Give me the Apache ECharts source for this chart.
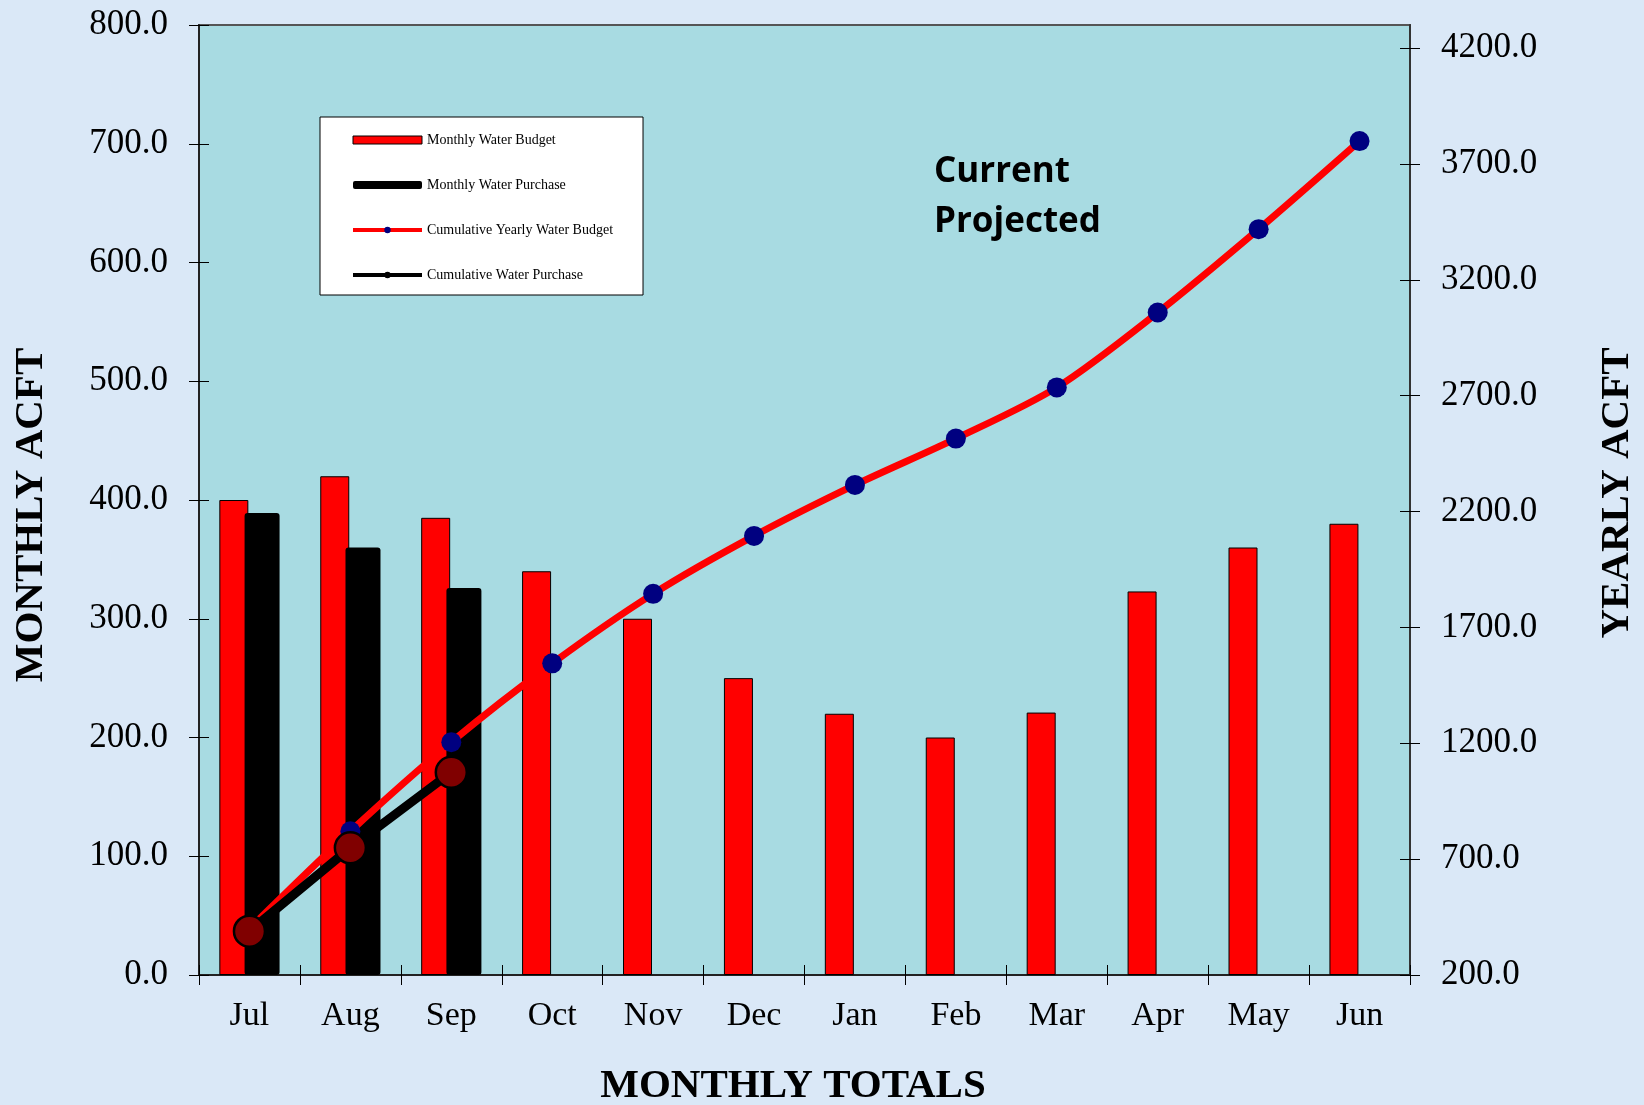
<!DOCTYPE html>
<html>
<head>
<meta charset="utf-8">
<script src="https://cdn.jsdelivr.net/npm/echarts@6/dist/echarts.min.js"></script>
<style>
  html, body { margin: 0; padding: 0; background: #dae8f7; }
  #chart { width: 1644px; height: 1105px; }
</style>
</head>
<body>
<div id="chart"></div>
<script>
// ---- data ----
const months = ['Jul', 'Aug', 'Sep', 'Oct', 'Nov', 'Dec', 'Jan', 'Feb', 'Mar', 'Apr', 'May', 'Jun'];
const monthlyBudget = [400, 420, 385, 340, 300, 250, 220, 200, 221, 323, 360, 380];
const monthlyPurchase = [389, 360, 326];
const cumulativeBudget = [400, 820, 1205, 1545, 1845, 2095, 2315, 2515, 2736, 3059, 3419, 3799];
const cumulativePurchase = [389, 749, 1075];
const leftTicks = [0, 100, 200, 300, 400, 500, 600, 700, 800];
const rightTicks = [200, 700, 1200, 1700, 2200, 2700, 3200, 3700, 4200];

const serif = '"Liberation Serif", "Times New Roman", serif';
const chart = echarts.init(document.getElementById('chart'));

const option = {
  backgroundColor: '#dae8f7',
  animation: false,
  grid: {
    left: 199, right: 234, top: 25, bottom: 130,
    show: true, backgroundColor: '#a8dbe2', borderColor: '#555', borderWidth: 2
  },
  legend: {
    orient: 'vertical',
    left: 320, top: 117,
    padding: [16, 30, 13, 31],
    backgroundColor: '#ffffff',
    borderColor: '#000', borderWidth: 1,
    itemWidth: 69, itemHeight: 8, itemGap: 31,
    textStyle: { fontFamily: serif, fontSize: 14, color: '#000' },
    data: [
      { name: 'Monthly Water Budget', icon: 'rect', itemStyle: { color: '#ff0000', borderColor: '#000', borderWidth: 1 } },
      { name: 'Monthly Water Purchase', icon: 'roundRect', itemStyle: { color: '#000' } },
      { name: 'Cumulative Yearly Water Budget', lineStyle: { width: 4, color: '#ff0000' }, itemStyle: { color: '#000080', borderWidth: 0 } },
      { name: 'Cumulative Water Purchase', lineStyle: { width: 4, color: '#000' }, itemStyle: { color: '#000', borderWidth: 0 } }
    ]
  },
  xAxis: [
    {
      type: 'category', data: months, position: 'bottom',
      axisLine: { show: true, lineStyle: { color: '#222', width: 2 } },
      axisTick: { show: true, length: 10, interval: 0, lineStyle: { color: '#000' } },
      axisLabel: { fontFamily: serif, fontSize: 34, color: '#000', margin: 24, interval: 0 },
      splitLine: { show: false }
    },
    {
      type: 'category', data: months, position: 'bottom',
      axisLine: { show: false },
      axisTick: { show: true, inside: true, length: 10, interval: 0, lineStyle: { color: '#000' } },
      axisLabel: { show: false },
      splitLine: { show: false }
    }
  ],
  yAxis: [
    {
      type: 'value', position: 'left', min: 0, max: 800, interval: 100,
      axisLine: { show: true, lineStyle: { color: '#222', width: 2 } },
      axisTick: { show: true, length: 10, lineStyle: { color: '#000' }, customValues: leftTicks },
      axisLabel: { fontFamily: serif, fontSize: 35, color: '#000', margin: 31,
        customValues: leftTicks, formatter: v => Number(v).toFixed(1) },
      splitLine: { show: false }
    },
    {
      type: 'value', position: 'right', min: 200, max: 4300, interval: 500,
      axisLine: { show: true, lineStyle: { color: '#333', width: 2 } },
      axisTick: { show: true, length: 10, lineStyle: { color: '#000' }, customValues: rightTicks },
      axisLabel: { fontFamily: serif, fontSize: 35, color: '#000', margin: 31,
        customValues: rightTicks, formatter: v => Number(v).toFixed(1) },
      splitLine: { show: false }
    },
    {
      type: 'value', position: 'left', min: 0, max: 800, interval: 100,
      axisLine: { show: false },
      axisTick: { show: true, inside: true, length: 10, lineStyle: { color: '#000' }, customValues: leftTicks },
      axisLabel: { show: false },
      splitLine: { show: false }
    },
    {
      type: 'value', position: 'right', min: 200, max: 4300, interval: 500,
      axisLine: { show: false },
      axisTick: { show: true, inside: true, length: 10, lineStyle: { color: '#000' }, customValues: rightTicks },
      axisLabel: { show: false },
      splitLine: { show: false }
    }
  ],
  graphic: [
    { type: 'text', x: 31, y: 515, rotation: Math.PI / 2,
      style: { text: 'MONTHLY ACFT', font: 'bold 41px ' + serif, fill: '#000', textAlign: 'center', textVerticalAlign: 'middle' } },
    { type: 'text', x: 1617, y: 493, rotation: Math.PI / 2,
      style: { text: 'YEARLY ACFT', font: 'bold 41px ' + serif, fill: '#000', textAlign: 'center', textVerticalAlign: 'middle' } },
    { type: 'text', x: 793, y: 1086,
      style: { text: 'MONTHLY TOTALS', font: 'bold 41px ' + serif, fill: '#000', textAlign: 'center', textVerticalAlign: 'middle' } },
    { type: 'text', x: 934, y: 147,
      style: { text: 'Current\nProjected', font: 'bold 35px "Open Sans"', lineHeight: 50, fill: '#000', textAlign: 'left', textVerticalAlign: 'top' } }
  ],
  series: [
    {
      name: 'Monthly Water Budget', type: 'bar', xAxisIndex: 0, yAxisIndex: 0,
      data: monthlyBudget, barWidth: 29, barGap: '-13%',
      itemStyle: { color: '#ff0000', borderColor: '#000', borderWidth: 1 }
    },
    {
      name: 'Monthly Water Purchase', type: 'bar', xAxisIndex: 0, yAxisIndex: 0,
      data: monthlyPurchase, barWidth: 35, barGap: '-13%',
      itemStyle: { color: '#000', borderRadius: 3 }
    },
    {
      name: 'Cumulative Yearly Water Budget', type: 'line', xAxisIndex: 0, yAxisIndex: 1,
      data: cumulativeBudget, smooth: 0.3,
      symbol: 'circle', symbolSize: 20, showAllSymbol: true,
      lineStyle: { color: '#ff0000', width: 7 },
      itemStyle: { color: '#000080', borderWidth: 0 }
    },
    {
      name: 'Cumulative Water Purchase', type: 'line', xAxisIndex: 0, yAxisIndex: 1,
      data: cumulativePurchase,
      symbol: 'circle', symbolSize: 31, showAllSymbol: true,
      lineStyle: { color: '#000', width: 9 },
      itemStyle: { color: '#800000', borderColor: '#000', borderWidth: 2.5 }
    }
  ]
};
chart.setOption(option);
</script>
</body>
</html>
